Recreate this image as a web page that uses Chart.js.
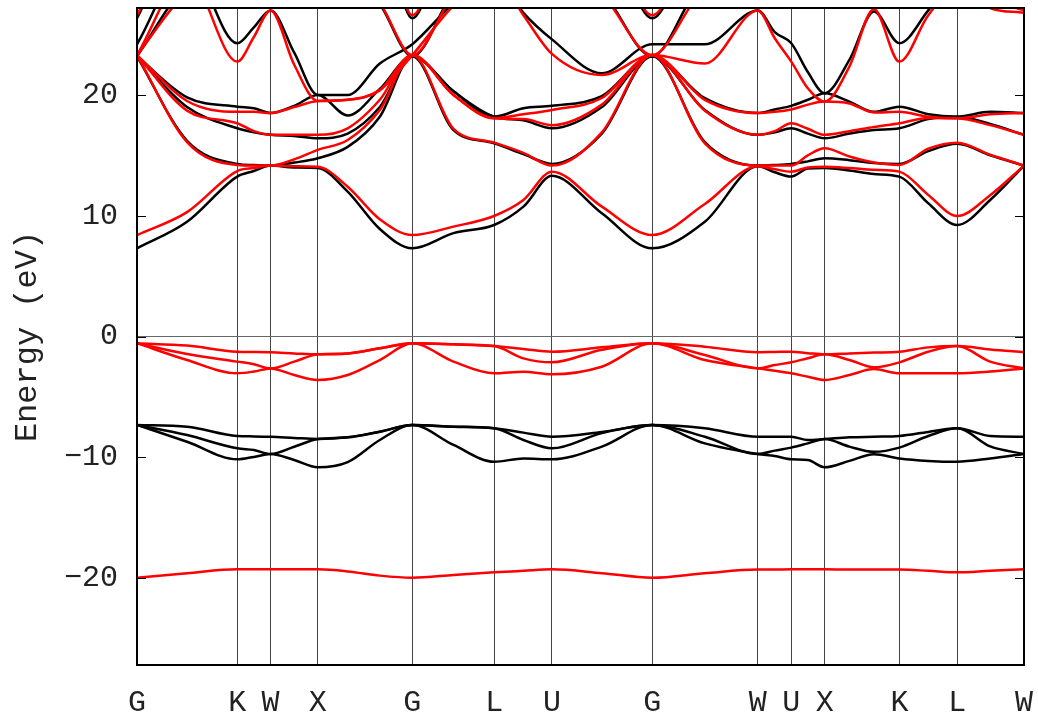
<!DOCTYPE html>
<html>
<head>
<meta charset="utf-8">
<script src="https://cdn.jsdelivr.net/npm/chart.js@4.4.1/dist/chart.umd.min.js"></script>
<style>
  html, body { margin: 0; padding: 0; background: #fff; }
</style>
</head>
<body>
<canvas id="bands" width="1038" height="716"></canvas>
<script>
// k-path distance of every sampled point, and the high-symmetry points
const kPath = [0, 0.53, 1.061, 1.237, 1.414, 1.664, 1.914, 2.23, 2.57, 2.914, 3.35, 3.78, 4.09, 4.392,
  4.92, 5.453, 6.01, 6.571, 6.75, 6.925, 7.10, 7.278, 7.54, 7.80, 8.069, 8.375, 8.681, 9.03, 9.388];
const symPoints = [0, 1.061, 1.414, 1.914, 2.914, 3.78, 4.392, 5.453, 6.571, 6.925, 7.278, 8.069, 8.681, 9.388];
const symLabels = ["G", "K", "W", "X", "G", "L", "U", "G", "W", "U", "X", "K", "L", "W"];
const yTicks = [-20, -10, 0, 10, 20];

// black calculation (eV)
const blackVB1 = [-7.33, -7.47, -8.24, -8.27, -8.3, -8.4, -8.49, -8.35, -7.88, -7.33, -7.47, -7.6, -7.96, -8.3, -7.9, -7.33, -7.6, -8.3, -8.3, -8.3, -8.57, -8.49, -8.35, -8.3, -8.24, -7.9, -7.6, -8.24, -8.3];
const blackVB2 = [-7.33, -8.16, -9.26, -9.4, -9.73, -9.13, -8.49, -8.35, -7.88, -7.33, -7.47, -7.6, -8.57, -9.26, -8.0, -7.33, -8.3, -9.73, -9.45, -9.2, -8.85, -8.49, -9.12, -9.55, -9.2, -8.24, -7.6, -9.1, -9.73];
const blackVB3 = [-7.33, -8.71, -10.17, -9.97, -9.73, -10.23, -10.83, -10.4, -8.57, -7.33, -8.98, -10.37, -10.1, -10.17, -9.12, -7.33, -8.85, -9.73, -9.9, -10.17, -10.23, -10.83, -10.3, -9.75, -10.1, -10.3, -10.37, -10.1, -9.73];
const blackCB1 = [7.3, 9.5, 13.24, 13.7, 14.15, 14.0, 13.95, 12.0, 8.9, 7.3, 8.56, 9.23, 10.75, 13.3, 10.2, 7.3, 9.5, 14.1, 13.6, 13.24, 13.9, 13.95, 13.75, 13.45, 13.24, 11.03, 9.23, 11.3, 14.15];
const blackCB2 = [23.2, 16.2, 14.29, 14.2, 14.15, 14.4, 14.76, 15.7, 18.2, 23.2, 17.1, 16.0, 15.1, 14.29, 16.8, 23.2, 16.1, 14.15, 14.2, 14.29, 14.5, 14.76, 14.6, 14.36, 14.29, 15.35, 15.95, 15.0, 14.15];
const blackCB3 = [23.2, 19.0, 17.24, 16.9, 16.7, 16.6, 16.41, 16.8, 19.0, 23.2, 20.3, 18.2, 17.9, 17.24, 19.0, 23.2, 18.76, 16.7, 16.9, 17.24, 16.8, 16.41, 16.8, 17.1, 17.24, 18.0, 18.2, 17.6, 16.7];
const blackCB4 = [23.2, 19.8, 19.03, 18.9, 18.5, 19.1, 20.0, 18.3, 20.5, 23.2, 20.3, 18.2, 18.9, 19.1, 19.9, 23.2, 19.73, 18.5, 18.8, 19.1, 19.6, 20.14, 19.45, 18.6, 19.03, 18.4, 18.2, 18.6, 18.5];
const blackCB5 = [24.2, 31, 24.28, 25.6, 27.0, 23.5, 20.0, 20.0, 22.6, 24.2, 27.6, 30, 26.8, 24.6, 21.8, 24.2, 24.2, 27.0, 25.2, 24.28, 21.9, 20.14, 22.9, 26.9, 24.28, 27.0, 30, 28.0, 27.1];
const blackCB6 = [23.2, 29, 30, 29, 28, 29, 30, 30, 27.5, 23.2, 28.5, 31, 30, 30, 28.5, 23.2, 29, 29, 30, 30, 30, 30, 31, 30, 30, 31, 31, 29.5, 28.5];
const blackCB7 = [26.35, 34, 34, 34, 34, 34, 34, 34, 34, 26.35, 34, 34, 34, 34, 34, 26.35, 34, 34, 34, 34, 34, 34, 34, 34, 34, 34, 34, 34, 34];

// red calculation (eV)
const redDeep = [-19.97, -19.6, -19.28, -19.28, -19.28, -19.28, -19.28, -19.45, -19.8, -19.97, -19.75, -19.53, -19.4, -19.28, -19.6, -19.97, -19.6, -19.3, -19.3, -19.28, -19.28, -19.28, -19.3, -19.3, -19.3, -19.4, -19.53, -19.4, -19.28];
const redVB1 = [-0.56, -0.75, -1.26, -1.28, -1.3, -1.4, -1.48, -1.4, -0.98, -0.56, -0.65, -0.79, -1.04, -1.26, -0.9, -0.56, -0.84, -1.3, -1.28, -1.26, -1.38, -1.48, -1.4, -1.33, -1.26, -0.9, -0.79, -1.07, -1.3];
const redVB2 = [-0.56, -1.45, -2.08, -2.3, -2.64, -2.08, -1.48, -1.4, -0.98, -0.56, -0.65, -0.79, -1.81, -2.14, -1.1, -0.56, -1.53, -2.64, -2.36, -2.14, -1.8, -1.48, -1.95, -2.55, -2.14, -1.26, -0.79, -2.08, -2.64];
const redVB3 = [-0.56, -1.95, -3.05, -2.9, -2.64, -3.19, -3.6, -3.19, -1.95, -0.56, -2.08, -3.05, -2.91, -3.13, -2.5, -0.56, -1.95, -2.64, -2.83, -3.05, -3.33, -3.6, -3.19, -2.7, -3.05, -3.05, -3.05, -2.9, -2.64];
const redCB1 = [8.4, 10.3, 13.7, 13.95, 14.15, 14.1, 14.05, 12.4, 9.7, 8.4, 9.1, 9.98, 11.3, 13.65, 10.75, 8.4, 10.97, 14.1, 13.85, 13.65, 14.0, 14.05, 13.95, 13.8, 13.65, 11.72, 9.98, 11.7, 14.15];
const redCB2 = [23.3, 16.1, 14.2, 14.15, 14.15, 14.67, 15.45, 16.27, 18.76, 23.3, 17.2, 16.05, 15.2, 14.15, 16.9, 23.3, 16.0, 14.15, 14.15, 14.15, 15.0, 15.58, 14.9, 14.4, 14.2, 15.55, 16.05, 15.05, 14.15];
const redCB3 = [23.3, 18.7, 17.66, 17.0, 16.7, 16.7, 16.7, 17.24, 19.6, 23.3, 20.0, 18.07, 18.0, 17.5, 19.2, 23.3, 18.7, 16.7, 17.0, 17.66, 17.2, 16.7, 17.0, 17.35, 17.66, 18.1, 18.07, 17.5, 16.7];
const redCB4 = [23.3, 19.5, 18.6, 18.6, 18.5, 19.0, 19.5, 19.6, 20.4, 23.3, 20.0, 18.07, 18.4, 18.76, 19.75, 23.3, 19.6, 18.5, 18.6, 18.8, 19.2, 19.45, 19.3, 18.55, 18.6, 18.2, 18.07, 18.4, 18.5];
const redCB5 = [23.3, 30, 22.76, 24.8, 27.0, 22.5, 19.5, 19.6, 20.4, 23.3, 27.4, 30, 26.6, 23.4, 21.65, 23.3, 22.6, 27.0, 24.7, 22.76, 20.55, 19.45, 22.35, 27.1, 22.76, 26.6, 29, 27.2, 26.8];
const redCB6 = [23.3, 28.5, 30, 29, 28, 29, 30, 30, 27.6, 23.3, 28.3, 31, 30, 30, 28.3, 23.3, 28.5, 29, 30, 30, 30, 30, 31, 30, 30, 31, 31, 28, 27.0];
const redCB7 = [26.6, 34, 34, 34, 34, 34, 34, 34, 34, 26.6, 34, 34, 34, 34, 34, 26.6, 34, 34, 34, 34, 34, 34, 34, 34, 34, 34, 34, 34, 34];

const blackBands = [blackVB1, blackVB2, blackVB3, blackCB1, blackCB2, blackCB3, blackCB4, blackCB5, blackCB6, blackCB7];
const redBands = [redDeep, redVB1, redVB2, redVB3, redCB1, redCB2, redCB3, redCB4, redCB5, redCB6, redCB7];

const FONT = "'Liberation Mono', 'DejaVu Sans Mono', monospace";

const toPoints = (vals) => vals.map((e, i) => ({ x: kPath[i], y: e }));

const bandSet = (list, color) =>
  list.map((vals) => ({
    data: toPoints(vals),
    borderColor: color,
    borderWidth: 2.5,
    pointRadius: 0,
    fill: false,
    cubicInterpolationMode: "monotone",
  }));

// the axes' label overhang must not shrink the plot box
const noOverhang = (scale) => {
  scale.paddingTop = 0;
  scale.paddingBottom = 0;
  scale.paddingLeft = 0;
  scale.paddingRight = 0;
};

// box round the plot plus small inward ticks on both sides
const framePlugin = {
  id: "frame",
  afterDraw(chart) {
    const { ctx, chartArea: a, scales } = chart;
    ctx.save();
    ctx.strokeStyle = "#000";
    ctx.lineWidth = 1;
    yTicks.forEach((v) => {
      const py = Math.round(scales.y.getPixelForValue(v)) + 0.5;
      ctx.beginPath();
      ctx.moveTo(a.left, py);
      ctx.lineTo(a.left + 9, py);
      ctx.moveTo(a.right - 9, py);
      ctx.lineTo(a.right, py);
      ctx.stroke();
    });
    ctx.lineWidth = 2;
    ctx.strokeRect(a.left, a.top, a.right - a.left, a.bottom - a.top);
    ctx.restore();
  },
};

new Chart(document.getElementById("bands"), {
  type: "line",
  data: { datasets: [...bandSet(redBands, "#ff0000"), ...bandSet(blackBands, "#000000")] },
  options: {
    responsive: false,
    animation: false,
    devicePixelRatio: 1,
    layout: { padding: { top: 8, right: 14, left: 0, bottom: 0 } },
    plugins: { legend: { display: false }, tooltip: { enabled: false } },
    scales: {
      x: {
        type: "linear",
        min: 0,
        max: 9.388,
        afterBuildTicks: (scale) => {
          scale.ticks = symPoints.map((v) => ({ value: v }));
        },
        afterFit: (scale) => {
          scale.height = 51;
          noOverhang(scale);
        },
        ticks: {
          autoSkip: false,
          maxRotation: 0,
          padding: 20,
          color: "#222",
          font: { family: FONT, size: 30 },
          callback: (v, i) => symLabels[i],
        },
        grid: { color: "#444", lineWidth: 1, drawTicks: false },
        border: { color: "#000", width: 2 },
      },
      y: {
        min: -27.2,
        max: 27.2,
        afterBuildTicks: (scale) => {
          scale.ticks = yTicks.map((v) => ({ value: v }));
        },
        afterFit: (scale) => {
          scale.width = 137;
          noOverhang(scale);
        },
        ticks: {
          padding: 19,
          color: "#222",
          font: { family: FONT, size: 30 },
          callback: (v) => (v < 0 ? "\u2212" + Math.abs(v) : String(v)),
        },
        grid: {
          color: (c) => (c.tick && c.tick.value === 0 ? "#666" : "rgba(0,0,0,0)"),
          lineWidth: 1,
          drawTicks: false,
        },
        border: { color: "#000", width: 2 },
        title: {
          display: true,
          text: "Energy (eV)",
          color: "#222",
          font: { family: FONT, size: 32 },
          padding: { top: 8, bottom: 0 },
        },
      },
    },
  },
  plugins: [framePlugin],
});
</script>
</body>
</html>
